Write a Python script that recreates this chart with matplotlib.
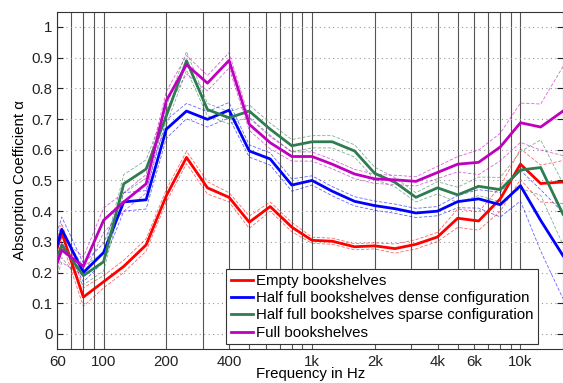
import numpy as np
import matplotlib
matplotlib.use("Agg")
import matplotlib.pyplot as plt
from matplotlib.ticker import FixedLocator, NullFormatter

plt.rcParams.update({
    "font.family": ["Liberation Sans", "DejaVu Sans"],
    "font.size": 10.8,
})

# 1/3-octave band centre frequencies (Hz)
freqs = [50, 63, 80, 100, 125, 160, 200, 250, 315, 400, 500, 630, 800,
         1000, 1250, 1600, 2000, 2500, 3150, 4000, 5000, 6300, 8000,
         10000, 12500, 16000]

empty = [0.10, 0.33, 0.12, 0.17, 0.22, 0.29, 0.45, 0.575, 0.476, 0.445,
         0.364, 0.415, 0.348, 0.305, 0.302, 0.284, 0.287, 0.278, 0.292,
         0.316, 0.377, 0.368, 0.44, 0.553, 0.49, 0.495]
half_dense = [0.10, 0.341, 0.20, 0.265, 0.43, 0.437, 0.667, 0.726, 0.699,
              0.729, 0.596, 0.57, 0.485, 0.50, 0.465, 0.432, 0.418, 0.408,
              0.394, 0.40, 0.431, 0.44, 0.421, 0.483, 0.37, 0.255]
half_sparse = [0.10, 0.289, 0.19, 0.235, 0.489, 0.537, 0.71, 0.89, 0.731,
               0.704, 0.726, 0.667, 0.613, 0.626, 0.626, 0.596, 0.523,
               0.494, 0.445, 0.476, 0.453, 0.481, 0.47, 0.534, 0.542, 0.39]
full = [0.08, 0.273, 0.22, 0.37, 0.43, 0.489, 0.76, 0.877, 0.817, 0.891,
        0.683, 0.623, 0.578, 0.578, 0.553, 0.521, 0.505, 0.502, 0.497,
        0.526, 0.553, 0.559, 0.609, 0.688, 0.674, 0.726]

# half-width of the dashed uncertainty band around each curve
empty_spread = [0.03, 0.03, 0.03, 0.02, 0.02, 0.02, 0.02, 0.02, 0.02, 0.015,
                0.02, 0.015, 0.015, 0.01, 0.01, 0.01, 0.01, 0.015, 0.015,
                0.015, 0.03, 0.03, 0.04, 0.05, 0.06, 0.07]
half_dense_spread = [0.04, 0.04, 0.03, 0.03, 0.03, 0.03, 0.03, 0.025, 0.025,
                     0.025, 0.02, 0.02, 0.02, 0.015, 0.015, 0.015, 0.015,
                     0.015, 0.015, 0.015, 0.02, 0.03, 0.04, 0.05, 0.10, 0.14]
half_sparse_spread = [0.04, 0.04, 0.03, 0.03, 0.03, 0.03, 0.03, 0.03, 0.02,
                      0.02, 0.02, 0.02, 0.02, 0.02, 0.02, 0.02, 0.02, 0.015,
                      0.015, 0.02, 0.025, 0.03, 0.04, 0.06, 0.09, 0.10]
full_spread = [0.04, 0.04, 0.03, 0.04, 0.03, 0.03, 0.03, 0.03, 0.025, 0.025,
               0.02, 0.02, 0.015, 0.015, 0.015, 0.015, 0.015, 0.015, 0.015,
               0.02, 0.025, 0.04, 0.045, 0.064, 0.075, 0.145]

labels = ["Empty bookshelves",
          "Half full bookshelves dense configuration",
          "Half full bookshelves sparse configuration",
          "Full bookshelves"]
colors = ["#ff0000", "#0000ff", "#2e7d50", "#bf00bf"]

xticks = [60, 100, 200, 400, 1000, 2000, 4000, 6000, 10000]
xticklabels = ["60", "100", "200", "400", "1k", "2k", "4k", "6k", "10k"]
grid_freqs = [60, 70, 80, 90, 100, 200, 300, 400, 500, 600, 700, 800, 900,
              1000, 2000, 3000, 4000, 5000, 6000, 7000, 8000, 9000, 10000]

fig = plt.figure(figsize=(5.63, 3.83), dpi=100)
ax = fig.add_axes([0.1018, 0.088, 0.8982, 0.8817])

f = np.array(freqs)
series = [(empty, empty_spread), (half_dense, half_dense_spread),
          (half_sparse, half_sparse_spread), (full, full_spread)]

for (vals, spread), c in zip(series, colors):
    v = np.array(vals)
    s = np.array(spread)
    ax.plot(f, v + s, "--", color=c, lw=0.6, alpha=0.6, dashes=(4, 2), zorder=3)
    ax.plot(f, v - s, "--", color=c, lw=0.6, alpha=0.6, dashes=(4, 2), zorder=3)

handles = []
for (vals, spread), c, lab in zip(series, colors, labels):
    h, = ax.plot(f, vals, "-", color=c, lw=2.0, label=lab, zorder=4)
    handles.append(h)

ax.set_xscale("log")
ax.set_xlim(60, 16000)
ax.set_ylim(-0.05, 1.05)

# vertical grid lines at the decade sub-divisions
for g in grid_freqs:
    ax.axvline(g, color="#555555", lw=0.8, zorder=1)

yt = np.round(np.arange(0, 1.01, 0.1), 1)
ax.set_yticks(yt)
ax.set_yticklabels(["0" if t == 0 else ("1" if t == 1 else f"{t:g}") for t in yt])
for t in yt:
    ax.axhline(t, color="#999999", lw=0.8, ls=(0, (1, 3)), zorder=1)

ax.xaxis.set_major_locator(FixedLocator(xticks))
ax.set_xticklabels(xticklabels)
ax.xaxis.set_minor_formatter(NullFormatter())
ax.tick_params(axis="both", which="both", direction="in", length=4,
               right=True, top=False, colors="#222222", labelsize=10.8)
ax.tick_params(axis="x", which="both", length=0, pad=4)

for sp in ax.spines.values():
    sp.set_color("#333333")
    sp.set_linewidth(0.8)

ax.set_xlabel("Frequency in Hz", fontsize=10.8, labelpad=-1)
ax.set_ylabel("Absorption Coefficient α", fontsize=10.8, labelpad=3)

leg = ax.legend(handles=handles, loc="lower right",
                bbox_to_anchor=(0.951, 0.0148), borderaxespad=0,
                fontsize=10.8, handlelength=1.5, handletextpad=0.2,
                labelspacing=0.22, borderpad=0.3, fancybox=False,
                framealpha=1, edgecolor="#333333")
leg.get_frame().set_linewidth(0.8)
leg.set_zorder(5)

fig.savefig("out.png", dpi=100)
